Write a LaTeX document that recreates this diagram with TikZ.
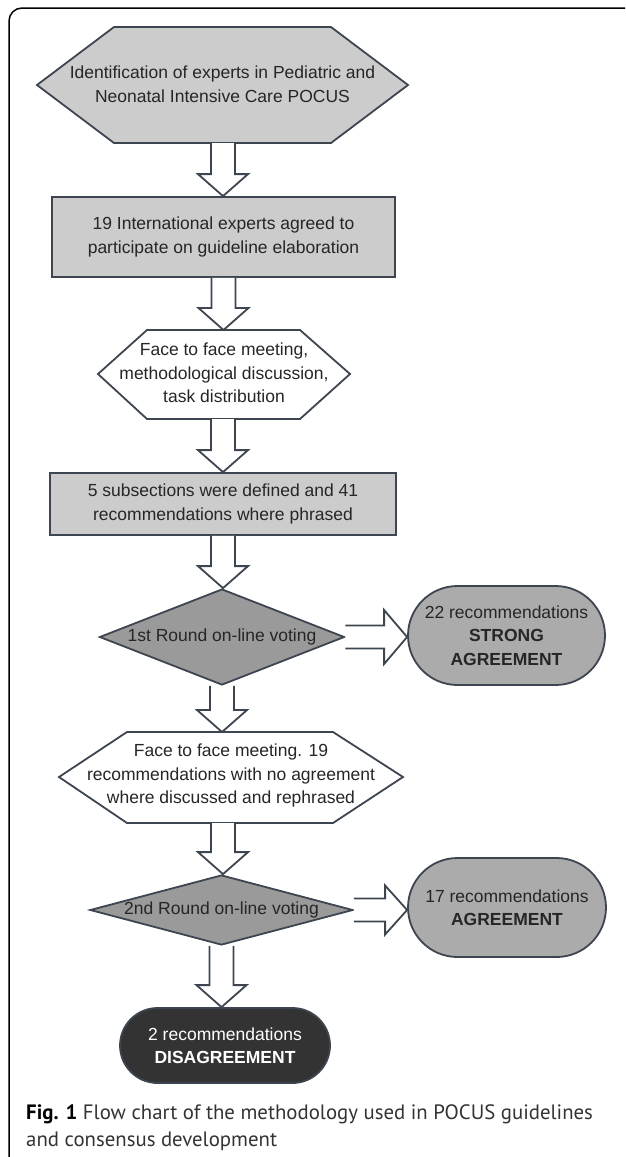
\documentclass[tikz,border=0pt]{standalone}
\usepackage{fontspec}
\setmainfont{Liberation Sans}
\newfontfamily\capfont{PT Sans}
\usetikzlibrary{calc,shapes.geometric,shapes.misc}
\definecolor{edgeC}{HTML}{3C4550}
\definecolor{boxC}{HTML}{CCCCCC}
\definecolor{voteC}{HTML}{9A9A9A}
\definecolor{resC}{HTML}{ABABAB}
\definecolor{darkC}{HTML}{333333}
\begin{document}
\begin{tikzpicture}[x=1pt,y=-1pt,font=\fontsize{17.5}{23.5}\selectfont,
        shp/.style={draw=edgeC,line width=1.8pt},
        txt/.style={align=center,text=black!85,inner sep=0pt},
        procBox/.style={shp,txt,fill=boxC,rectangle},
        voteDia/.style={shp,txt,fill=voteC,diamond},
        resRound/.style={shp,txt,fill=resC,rounded rectangle},
        blockArr/.style={draw=edgeC,line width=1.8pt,fill=white}]
            \useasboundingbox (0,0) rectangle (625,1157);
            \draw[line width=1.5pt,rounded corners=13pt] (625,8)--(9,8)--(9,1157);
            \filldraw[shp,fill=boxC] (37,85)--(114,27)--(331,27)--(408,85)--(331,143)--(114,143)--cycle;
            \node[txt] (ident) at (222.5,84) {Identification of experts in Pediatric and\\Neonatal Intensive Care POCUS};
            \coordinate (identS) at (223,143);
            \node[procBox,minimum width=343pt,minimum height=80pt] (experts) at (223.5,237) {19 International experts agreed to\\participate on guideline elaboration};
            \filldraw[shp,fill=white] (98,374)--(147,330)--(300,330)--(350,374)--(300,419)--(147,419)--cycle;
            \node[txt] (meetOne) at (224,373) {Face to face meeting,\\methodological discussion,\\task distribution};
            \coordinate (meetOneN) at (223,330);
            \coordinate (meetOneS) at (223,419);
            \node[procBox,minimum width=346pt,minimum height=62pt] (subsec) at (223,504) {5 subsections were defined and 41\\recommendations where phrased};
            \node[voteDia,aspect=2.55,minimum width=245pt,minimum height=96pt] (voteOne) at (222,637) {1st Round on-line voting};
            \node[resRound,minimum width=197pt,minimum height=99pt] (strongAgr) at (506.5,635.5) {22 recommendations\\\textbf{STRONG}\\\textbf{AGREEMENT}};
            \filldraw[shp,fill=white] (59,777)--(127,732)--(333,732)--(403,777)--(333,823)--(127,823)--cycle;
            \node[txt] (meetTwo) at (231,775.5) {Face to face meeting. 19\\recommendations with no agreement\\where discussed and rephrased};
            \coordinate (meetTwoN) at (223,732);
            \coordinate (meetTwoS) at (223,823);
            \node[voteDia,aspect=3.7,minimum width=263pt,minimum height=70pt] (voteTwo) at (221.5,910) {2nd Round on-line voting};
            \node[resRound,minimum width=198pt,minimum height=99pt] (agr) at (507,907.5) {17 recommendations\\\textbf{AGREEMENT}};
            \node[resRound,fill=darkC,text=white,minimum width=210pt,minimum height=75pt] (disagr) at (225,1045.5) {2 recommendations\\\textbf{DISAGREEMENT}};
            \foreach \a/\b in {identS/experts.north,experts.south/meetOneN,meetOneS/subsec.north,subsec.south/voteOne.north,voteOne.south/meetTwoN,meetTwoS/voteTwo.north,voteTwo.south/disagr.north}
            {
            \filldraw[blockArr] let \p1=(\a),\p2=(\b) in (\x1-12pt,\y1)--(\x1-12pt,\y2+22pt)--(\x1-25pt,\y2+22pt)--(\x1,\y2)--(\x1+25pt,\y2+22pt)--(\x1+12pt,\y2+22pt)--(\x1+12pt,\y1);
            }
            \filldraw[blockArr] let \p1=(voteOne.east),\p2=(strongAgr.west) in (\x1,\y1+11.5pt)--(\x2-23pt,\y1+11.5pt)--(\x2-23pt,\y1+27pt)--(\x2,\y1)--(\x2-23pt,\y1-27pt)--(\x2-23pt,\y1-11.5pt)--(\x1,\y1-11.5pt);
            \filldraw[blockArr] let \p1=(voteTwo.east),\p2=(agr.west) in (\x1,\y1+11.5pt)--(\x2-22pt,\y1+11.5pt)--(\x2-22pt,\y1+24.5pt)--(\x2,\y1)--(\x2-22pt,\y1-24.5pt)--(\x2-22pt,\y1-11.5pt)--(\x1,\y1-11.5pt);
            \node[anchor=north west,align=left,inner sep=0pt,text=black!80,font=\capfont\fontsize{20.8}{27}\selectfont] (caption) at (26,1104) {\textbf{\color{black}Fig. 1} Flow chart of the methodology used in POCUS guidelines\\and consensus development};
        \end{tikzpicture}
\end{document}
